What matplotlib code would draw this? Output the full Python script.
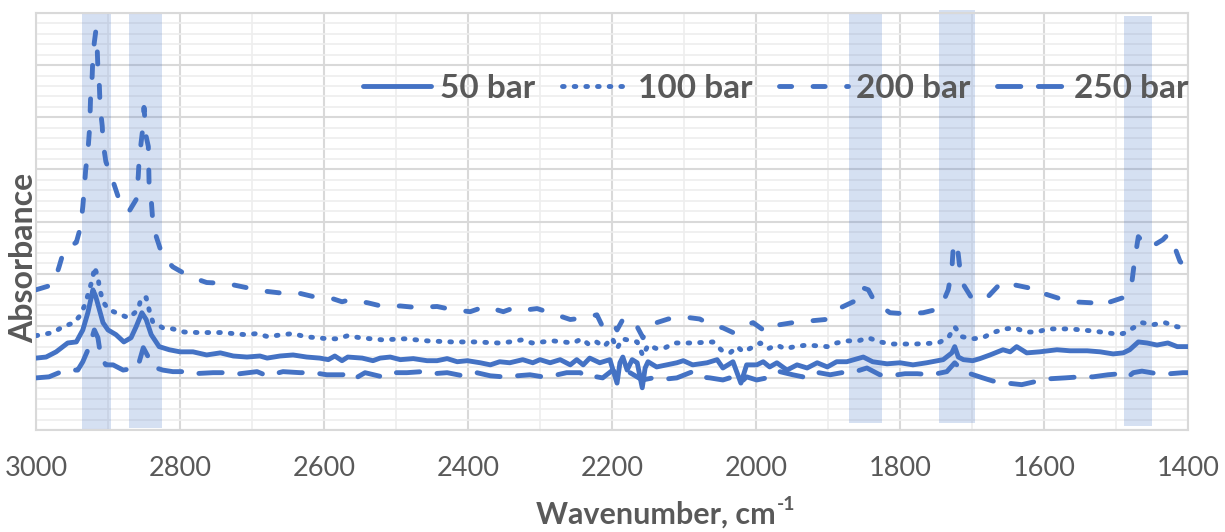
import matplotlib
matplotlib.use("Agg")
import matplotlib.pyplot as plt
from matplotlib.lines import Line2D
from matplotlib.ticker import MultipleLocator

plt.rcParams["font.family"] = ["Lato", "DejaVu Sans"]

# ---------------- data ----------------
labels = ["50 bar", "100 bar", "200 bar", "250 bar"]
x_ticks = [3000, 2800, 2600, 2400, 2200, 2000, 1800, 1600, 1400]

# highlighted absorption bands (wavenumber ranges, cm-1)
band_lo = [2896, 2825, 1825, 1696, 1450]
band_hi = [2936, 2871, 1871, 1746, 1489]

wn_50 = [3000, 2986, 2972, 2956, 2944, 2935, 2928, 2924, 2921, 2917, 2912, 2907, 2900, 2889,
         2878, 2868, 2861, 2853, 2847, 2840, 2829, 2815, 2800, 2782, 2763, 2744, 2726, 2707,
         2689, 2679, 2661, 2643, 2624, 2606, 2594, 2585, 2575, 2567, 2547, 2532, 2522, 2508,
         2494, 2476, 2457, 2443, 2429, 2415, 2401, 2383, 2369, 2356, 2342, 2324, 2310, 2300,
         2286, 2272, 2258, 2249, 2240, 2231, 2217, 2203, 2193, 2189, 2185, 2179, 2172, 2165,
         2158, 2154, 2150, 2138, 2124, 2110, 2101, 2088, 2068, 2054, 2046, 2032, 2021, 2013,
         1999, 1990, 1981, 1971, 1957, 1943, 1929, 1915, 1901, 1888, 1874, 1851, 1838, 1818,
         1800, 1782, 1763, 1740, 1728, 1724, 1719, 1712, 1699, 1689, 1675, 1657, 1647, 1638,
         1624, 1606, 1582, 1564, 1540, 1522, 1504, 1490, 1481, 1469, 1457, 1443, 1428, 1415,
         1400]
abs_50 = [0.138, 0.140, 0.150, 0.167, 0.169, 0.192, 0.225, 0.250, 0.269, 0.256, 0.231, 0.206, 0.192, 0.183,
          0.169, 0.177, 0.198, 0.225, 0.212, 0.183, 0.160, 0.154, 0.150, 0.150, 0.144, 0.148, 0.142, 0.140,
          0.142, 0.138, 0.142, 0.144, 0.140, 0.138, 0.135, 0.142, 0.133, 0.140, 0.138, 0.133, 0.138, 0.140,
          0.135, 0.137, 0.133, 0.133, 0.137, 0.131, 0.133, 0.129, 0.125, 0.131, 0.129, 0.135, 0.129, 0.135,
          0.129, 0.135, 0.125, 0.135, 0.125, 0.138, 0.129, 0.135, 0.090, 0.129, 0.140, 0.115, 0.135, 0.129,
          0.081, 0.119, 0.131, 0.121, 0.125, 0.129, 0.133, 0.125, 0.129, 0.135, 0.119, 0.131, 0.090, 0.125,
          0.125, 0.131, 0.121, 0.129, 0.115, 0.125, 0.119, 0.129, 0.121, 0.131, 0.131, 0.140, 0.131, 0.127,
          0.129, 0.125, 0.129, 0.135, 0.148, 0.160, 0.140, 0.135, 0.133, 0.137, 0.144, 0.154, 0.150, 0.160,
          0.148, 0.150, 0.154, 0.152, 0.152, 0.150, 0.146, 0.148, 0.154, 0.169, 0.167, 0.163, 0.167, 0.160,
          0.160]

wn_100 = [3000, 2976, 2963, 2947, 2938, 2931, 2926, 2921, 2919, 2914, 2912, 2907, 2899, 2882,
          2871, 2858, 2854, 2847, 2843, 2838, 2824, 2810, 2794, 2775, 2742, 2710, 2693, 2678,
          2658, 2643, 2626, 2610, 2594, 2581, 2567, 2550, 2519, 2488, 2456, 2422, 2390, 2358,
          2342, 2325, 2311, 2282, 2254, 2242, 2233, 2224, 2211, 2200, 2193, 2186, 2165, 2157,
          2150, 2138, 2126, 2113, 2088, 2060, 2047, 2036, 2026, 2018, 2006, 1994, 1983, 1971,
          1960, 1946, 1929, 1901, 1888, 1874, 1858, 1844, 1828, 1811, 1779, 1747, 1733, 1724,
          1714, 1699, 1685, 1671, 1654, 1640, 1626, 1610, 1594, 1564, 1532, 1504, 1490, 1476,
          1464, 1449, 1432, 1415, 1400]
abs_100 = [0.181, 0.187, 0.198, 0.206, 0.221, 0.244, 0.269, 0.292, 0.313, 0.294, 0.273, 0.246, 0.231, 0.221,
           0.215, 0.231, 0.254, 0.254, 0.231, 0.208, 0.196, 0.194, 0.188, 0.187, 0.187, 0.183, 0.185, 0.179,
           0.183, 0.185, 0.179, 0.177, 0.175, 0.175, 0.181, 0.177, 0.173, 0.175, 0.171, 0.169, 0.169, 0.167,
           0.169, 0.173, 0.167, 0.171, 0.167, 0.175, 0.165, 0.171, 0.160, 0.177, 0.156, 0.175, 0.169, 0.142,
           0.163, 0.156, 0.158, 0.167, 0.167, 0.169, 0.152, 0.148, 0.160, 0.150, 0.158, 0.167, 0.156, 0.163,
           0.156, 0.160, 0.163, 0.160, 0.167, 0.171, 0.171, 0.177, 0.169, 0.165, 0.165, 0.167, 0.177, 0.198,
           0.179, 0.175, 0.177, 0.187, 0.194, 0.196, 0.188, 0.188, 0.194, 0.194, 0.190, 0.185, 0.185, 0.196,
           0.206, 0.202, 0.206, 0.198, 0.196]

wn_200 = [3000, 2976, 2968, 2961, 2944, 2938, 2935, 2933, 2931, 2928, 2926, 2925, 2924, 2922,
          2921, 2919, 2917, 2915, 2914, 2912, 2911, 2908, 2907, 2903, 2894, 2886, 2878, 2871,
          2865, 2861, 2858, 2857, 2854, 2851, 2850, 2847, 2844, 2843, 2840, 2838, 2833, 2824,
          2810, 2786, 2763, 2735, 2714, 2686, 2661, 2636, 2615, 2588, 2575, 2564, 2539, 2518,
          2494, 2471, 2443, 2422, 2397, 2376, 2351, 2339, 2328, 2304, 2286, 2258, 2240, 2221,
          2213, 2200, 2193, 2185, 2171, 2165, 2157, 2147, 2122, 2101, 2078, 2064, 2046, 2032,
          2013, 2004, 1985, 1976, 1967, 1949, 1935, 1904, 1888, 1865, 1856, 1844, 1835, 1814,
          1793, 1768, 1744, 1733, 1728, 1726, 1721, 1717, 1712, 1699, 1679, 1658, 1643, 1622,
          1610, 1603, 1578, 1560, 1533, 1519, 1512, 1490, 1478, 1474, 1469, 1462, 1453, 1435,
          1428, 1421, 1411, 1400]
abs_200 = [0.269, 0.279, 0.313, 0.346, 0.360, 0.390, 0.429, 0.462, 0.500, 0.533, 0.571, 0.602, 0.648, 0.679,
           0.717, 0.744, 0.765, 0.731, 0.692, 0.660, 0.621, 0.583, 0.552, 0.515, 0.481, 0.448, 0.429, 0.419,
           0.433, 0.442, 0.487, 0.513, 0.552, 0.587, 0.619, 0.563, 0.544, 0.475, 0.442, 0.404, 0.371, 0.333,
           0.313, 0.294, 0.283, 0.281, 0.275, 0.267, 0.263, 0.263, 0.256, 0.252, 0.246, 0.250, 0.244, 0.237,
           0.238, 0.235, 0.237, 0.231, 0.227, 0.237, 0.227, 0.233, 0.229, 0.233, 0.225, 0.212, 0.215, 0.221,
           0.198, 0.208, 0.192, 0.212, 0.212, 0.198, 0.177, 0.202, 0.213, 0.217, 0.213, 0.202, 0.196, 0.187,
           0.202, 0.206, 0.187, 0.196, 0.202, 0.206, 0.208, 0.212, 0.231, 0.246, 0.275, 0.269, 0.246, 0.225,
           0.223, 0.225, 0.233, 0.269, 0.308, 0.352, 0.360, 0.312, 0.279, 0.250, 0.254, 0.285, 0.279, 0.273,
           0.260, 0.263, 0.252, 0.246, 0.244, 0.237, 0.244, 0.254, 0.283, 0.327, 0.371, 0.360, 0.350, 0.365,
           0.375, 0.360, 0.323, 0.312]

wn_250 = [3000, 2982, 2968, 2958, 2942, 2935, 2926, 2919, 2914, 2910, 2903, 2893, 2879, 2861,
          2857, 2851, 2844, 2833, 2824, 2810, 2792, 2782, 2754, 2735, 2717, 2693, 2679, 2657,
          2633, 2615, 2596, 2574, 2561, 2553, 2543, 2519, 2504, 2485, 2464, 2449, 2429, 2407,
          2388, 2369, 2351, 2332, 2314, 2296, 2276, 2263, 2244, 2235, 2221, 2213, 2199, 2189,
          2175, 2158, 2143, 2124, 2110, 2088, 2078, 2064, 2046, 2032, 2022, 2013, 1999, 1985,
          1976, 1967, 1949, 1935, 1921, 1897, 1881, 1867, 1846, 1828, 1814, 1793, 1776, 1756,
          1735, 1724, 1714, 1707, 1685, 1671, 1651, 1631, 1615, 1596, 1571, 1550, 1532, 1511,
          1494, 1483, 1476, 1464, 1443, 1425, 1407, 1400]
abs_250 = [0.100, 0.102, 0.110, 0.115, 0.115, 0.131, 0.160, 0.192, 0.177, 0.140, 0.125, 0.125, 0.115, 0.119,
           0.129, 0.158, 0.140, 0.119, 0.115, 0.112, 0.112, 0.108, 0.110, 0.110, 0.108, 0.112, 0.104, 0.112,
           0.110, 0.110, 0.106, 0.106, 0.112, 0.102, 0.110, 0.102, 0.110, 0.110, 0.112, 0.108, 0.110, 0.104,
           0.110, 0.104, 0.102, 0.104, 0.106, 0.102, 0.106, 0.110, 0.110, 0.100, 0.102, 0.100, 0.115, 0.100,
           0.110, 0.096, 0.100, 0.098, 0.100, 0.112, 0.102, 0.100, 0.096, 0.102, 0.090, 0.102, 0.096, 0.100,
           0.102, 0.112, 0.106, 0.102, 0.112, 0.106, 0.110, 0.110, 0.119, 0.106, 0.104, 0.108, 0.108, 0.106,
           0.112, 0.129, 0.115, 0.110, 0.100, 0.094, 0.090, 0.087, 0.092, 0.098, 0.100, 0.102, 0.102, 0.106,
           0.108, 0.102, 0.110, 0.113, 0.108, 0.108, 0.110, 0.110]

# ---------------- styling ----------------
BLUE = "#4472C4"
TEXT = "#595959"
LW = 3.5
styles = [
    dict(linestyle="-", solid_capstyle="round", solid_joinstyle="round"),
    dict(linestyle=(0, (0.35, 2.05)), dash_capstyle="round"),
    dict(linestyle=(0, (2.5, 4.4)), dash_capstyle="round", dash_joinstyle="round"),
    dict(linestyle=(0, (4.8, 3.6)), dash_capstyle="round", dash_joinstyle="round"),
]
# vertical extent of each shaded band (axes fraction)
band_bottom = [0.0, 0.005, 0.017, 0.017, 0.010]
band_top = [1.0, 1.0, 1.002, 1.007, 0.993]

fig = plt.figure(figsize=(12.25, 5.32), dpi=100)
ax = fig.add_axes([0.0294, 0.1917, 0.9404, 0.7838])
ax.set_xlim(3000, 1400)
ax.set_ylim(0, 0.8)

ax.xaxis.set_major_locator(MultipleLocator(200))
ax.xaxis.set_minor_locator(MultipleLocator(100))
ax.yaxis.set_major_locator(MultipleLocator(0.1))
ax.yaxis.set_minor_locator(MultipleLocator(0.02))
ax.set_axisbelow(True)
ax.grid(which="major", color="#d9d9d9", linewidth=1.5, zorder=0)
ax.grid(which="minor", color="#eeeeee", linewidth=1.2, zorder=0)
ax.set_xticks(x_ticks)
ax.set_xticklabels([str(t) for t in x_ticks])
ax.tick_params(which="both", length=0)
ax.tick_params(axis="x", labelsize=19.5, labelcolor=TEXT, pad=19)
ax.tick_params(axis="y", labelleft=False)
for sp in ax.spines.values():
    sp.set_color("#d9d9d9")
    sp.set_linewidth(1.5)

for lo, hi, b, t in zip(band_lo, band_hi, band_bottom, band_top):
    ax.axvspan(lo, hi, ymin=b, ymax=t, color=BLUE, alpha=0.22, lw=0, zorder=1, clip_on=False)

series = [(wn_50, abs_50), (wn_100, abs_100), (wn_200, abs_200), (wn_250, abs_250)]
for (wn, a), st in zip(series, styles):
    ax.plot(wn, a, color=BLUE, linewidth=LW, zorder=3, **st)

handles = [Line2D([], [], color=BLUE, linewidth=LW, **st) for st in styles]
leg = ax.legend(handles, labels, ncol=4, loc="center", bbox_to_anchor=(0.642, 0.820),
                frameon=False, handlelength=2.05, handletextpad=0.25, columnspacing=0.8,
                prop=dict(family=["Lato", "DejaVu Sans"], weight="bold", size=24))
for txt in leg.get_texts():
    txt.set_color(TEXT)

# axis titles; the unit's exponent is set as a small raised text
xlab = fig.text(0.5, 1 - 515 / 532, "Wavenumber, cm", ha="left", va="center",
                fontsize=22, fontweight="bold", color=TEXT)
renderer = fig.canvas.get_renderer()
w_main = xlab.get_window_extent(renderer).width
sup = fig.text(0, 0, "-1", ha="left", va="center", fontsize=14, fontweight="bold", color=TEXT)
w_sup = sup.get_window_extent(renderer).width
x0 = 666 - (w_main + w_sup + 1) / 2
xlab.set_x(x0 / 1225)
sup.set_position(((x0 + w_main + 1) / 1225, 1 - 505 / 532))

fig.text(24 / 1225, 1 - 258 / 532, "Absorbance", ha="center", va="center", rotation=90,
         fontsize=23, fontweight="bold", color=TEXT)

fig.savefig("out.png", dpi=100)
